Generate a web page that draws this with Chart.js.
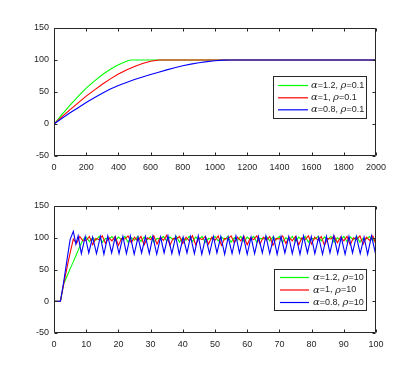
<!DOCTYPE html>
<html><head><meta charset="utf-8">
<script src="https://cdn.jsdelivr.net/npm/chart.js@4"></script>
<style>html,body{margin:0;padding:0;background:#fff;width:415px;height:374px;overflow:hidden}
canvas{position:absolute;left:0}</style></head><body>
<canvas id="c1" width="415" height="187" style="top:0"></canvas>
<canvas id="c2" width="415" height="187" style="top:187px"></canvas>
<script>
// ---------- top panel (rho = 0.1) ----------
const greenTopT = [0,50,100,150,200,250,300,350,400,450,475,2000];
const greenTopV = [0,15,29.5,43,56,67,77,85.5,92.5,98,100,100];
const redTopT = [0,50,100,150,200,250,300,350,400,450,500,550,600,650,2000];
const redTopV = [0,11.5,22.5,33,43.5,53,62,70.5,78,84.5,90,94.5,98,100,100];
const blueTopT = [0,50,100,150,200,250,300,350,400,450,500,550,600,650,700,750,800,850,900,950,1000,1050,1100,2000];
const blueTopV = [0,9,17.5,25.5,33.5,41,48,54.5,60,65,69.5,73.5,77.3,81,84.6,87.9,90.9,93.5,95.7,97.5,98.9,99.8,100,100];
const topLabels = ['α=1.2, ρ=0.1','α=1, ρ=0.1','α=0.8, ρ=0.1'];

// ---------- bottom panel (rho = 10) ----------
const greenBotT = Array.from({length:101},(_,i)=>i); // sample times 0..100
const greenBotV = [0,0,0,27,39,51,62,74,86,97,
 101,94,100,96,102,93,99,98,102,95,
 101,97,102,93,100,96,102,94,101,97,
 102,93,99,98,102,95,101,97,102,93,
 100,96,102,94,101,97,102,93,99,98,
 102,95,101,97,102,93,100,96,102,94,
 101,97,102,93,99,98,102,95,101,97,
 102,93,100,96,102,94,101,97,102,93,
 99,98,102,95,101,97,102,93,100,96,
 102,94,101,97,102,93,99,98,102,95,
 101];
const redBotT = Array.from({length:101},(_,i)=>i);
const redBotV = [0,0,0,27,52,76,98,91,102,95,
 96,102,89,99,97,103,91,100,95,102,
 88,99,98,103,92,101,95,102,89,100,
 97,103,90,101,96,104,88,99,98,102,
 91,101,95,103,89,100,97,102,90,101,
 96,103,88,99,98,103,92,101,95,102,
 89,100,97,103,90,101,96,102,88,99,
 98,103,91,101,95,102,89,100,97,103,
 90,101,96,102,88,99,98,103,92,101,
 95,102,89,100,97,103,90,101,96,103,
 89];
const blueBotT = [0,2,3,4,5,6,6.8,7.5,8.5,
 9.7,10.8,12.0,13.2,14.4,15.5,16.7,17.9,19.0,20.2,
 21.4,22.5,23.7,24.9,26.1,27.2,28.4,29.6,30.7,31.9,
 33.1,34.2,35.4,36.6,37.8,38.9,40.1,41.3,42.4,43.6,
 44.8,45.9,47.1,48.3,49.5,50.6,51.8,53.0,54.1,55.3,
 56.5,57.6,58.8,60.0,61.2,62.3,63.5,64.7,65.8,67.0,
 68.2,69.3,70.5,71.7,72.9,74.0,75.2,76.4,77.5,78.7,
 79.9,81.0,82.2,83.4,84.6,85.7,86.9,88.1,89.2,90.4,
 91.6,92.7,93.9,95.1,96.3,97.4,98.6,99.8,100];
const blueBotV = [0,0,30,64,97,110,90,103,75,
 102,76,101,75,102,74,103,76,101,75,
 102,75,103,74,101,76,102,75,102,74,
 101,76,103,75,102,74,101,76,102,75,
 103,74,101,75,102,76,102,74,101,75,
 103,76,102,74,101,75,102,76,103,75,
 101,74,102,76,102,75,101,74,103,76,
 102,75,101,74,102,76,103,75,101,74,
 102,76,102,75,101,74,103,76,79];
const botLabels = ['α=1.2, ρ=10','α=1, ρ=10','α=0.8, ρ=10'];

const yTicks = [-50,0,50,100,150];
const COLORS = ['#00ff00','#ff0000','#0000ff'];
const AXIS = '#262626';
const FONT = '"Liberation Sans", Arial, sans-serif';

function pts(t,v){return t.map((x,i)=>({x:x,y:v[i]}));}

function drawLabel(ctx, text, x, y){
  let cx = x;
  for (const ch of text){
    const greek = (ch==='α'||ch==='ρ');
    ctx.font = greek ? 'italic 10px "DejaVu Serif", serif' : '9px '+FONT;
    ctx.fillText(ch, cx, y);
    cx += ctx.measureText(ch).width;
  }
}

const frame = {
  id:'frame',
  afterDatasetsDraw(chart, args, opts){
    const ctx = chart.ctx, a = chart.chartArea;
    ctx.save();
    ctx.strokeStyle = AXIS; ctx.lineWidth = 1;
    const L = Math.round(a.left)+0.5, R = Math.round(a.right)-0.5;
    const T = Math.round(a.top)+0.5, B = Math.round(a.bottom)-0.5;
    ctx.beginPath(); ctx.rect(L,T,R-L,B-T); ctx.stroke();
    const xs = chart.scales.x, ys = chart.scales.y, tl = 3;
    ctx.beginPath();
    xs.ticks.forEach(tk=>{
      const px = Math.round(xs.getPixelForValue(tk.value))+0.5;
      ctx.moveTo(px,B); ctx.lineTo(px,B-tl);
      ctx.moveTo(px,T); ctx.lineTo(px,T+tl);
    });
    ys.ticks.forEach(tk=>{
      const py = Math.round(ys.getPixelForValue(tk.value))+0.5;
      ctx.moveTo(L,py); ctx.lineTo(L+tl,py);
      ctx.moveTo(R,py); ctx.lineTo(R-tl,py);
    });
    ctx.stroke();
    const lg = opts.legend;
    if (lg){
      ctx.fillStyle = '#fff';
      ctx.fillRect(lg.x, lg.y, lg.w, lg.h);
      ctx.strokeStyle = AXIS;
      ctx.strokeRect(lg.x+0.5, lg.y+0.5, lg.w, lg.h);
      lg.labels.forEach((lab,i)=>{
        const ry = lg.y + lg.rows[i];
        ctx.strokeStyle = COLORS[i]; ctx.lineWidth = 1.2;
        ctx.beginPath(); ctx.moveTo(lg.x+lg.l0, ry+0.5); ctx.lineTo(lg.x+lg.l1, ry+0.5); ctx.stroke();
        ctx.fillStyle = AXIS; ctx.textBaseline = 'middle'; ctx.textAlign = 'left';
        drawLabel(ctx, lab, lg.x+lg.tx, ry+0.5);
      });
    }
    ctx.restore();
  }
};

function makeChart(id, sets, xmax, xstep, padTop, xAxisH, legend){
  const ds = sets.map((s,i)=>({
    data: pts(s[0], s[1]), borderColor: COLORS[i], borderWidth: 1.1,
    pointRadius: 0, tension: 0, showLine: true, fill: false, order: 3-i
  }));
  return new Chart(document.getElementById(id), {
    type: 'scatter',
    data: {datasets: ds},
    options: {
      responsive: false, animation: false, devicePixelRatio: 1,
      layout: {padding: {left: 0, top: padTop, right: 39, bottom: 0}},
      plugins: {legend: {display: false}, tooltip: {enabled: false}, frame: {legend: legend}},
      scales: {
        x: {type: 'linear', min: 0, max: xmax,
            grid: {display: false, drawTicks: false}, border: {display: false},
            ticks: {stepSize: xstep, autoSkip: false, maxRotation: 0, padding: 6, color: AXIS,
                    font: {family: FONT, size: 9}, callback: v => String(v)},
            afterFit: s => { s.height = xAxisH; }},
        y: {type: 'linear', min: -50, max: 150,
            grid: {display: false, drawTicks: false}, border: {display: false},
            afterBuildTicks: s => { s.ticks = yTicks.map(v=>({value:v})); },
            ticks: {autoSkip: false, padding: 5, color: AXIS, font: {family: FONT, size: 9},
                    callback: v => String(v)},
            afterFit: s => { s.width = 54; }}
      }
    },
    plugins: [frame]
  });
}

makeChart('c1', [[greenTopT,greenTopV],[redTopT,redTopV],[blueTopT,blueTopV]], 2000, 200, 28, 31,
  {x:273, y:76, w:93, h:42, rows:[9,21.3,33.3], l0:5, l1:35, tx:38, labels: topLabels});
makeChart('c2', [[greenBotT,greenBotV],[redBotT,redBotV],[blueBotT,blueBotV]], 100, 10, 19, 41,
  {x:274, y:82, w:92, h:41, rows:[8,20.5,33], l0:6, l1:35, tx:39, labels: botLabels});
</script></body></html>
